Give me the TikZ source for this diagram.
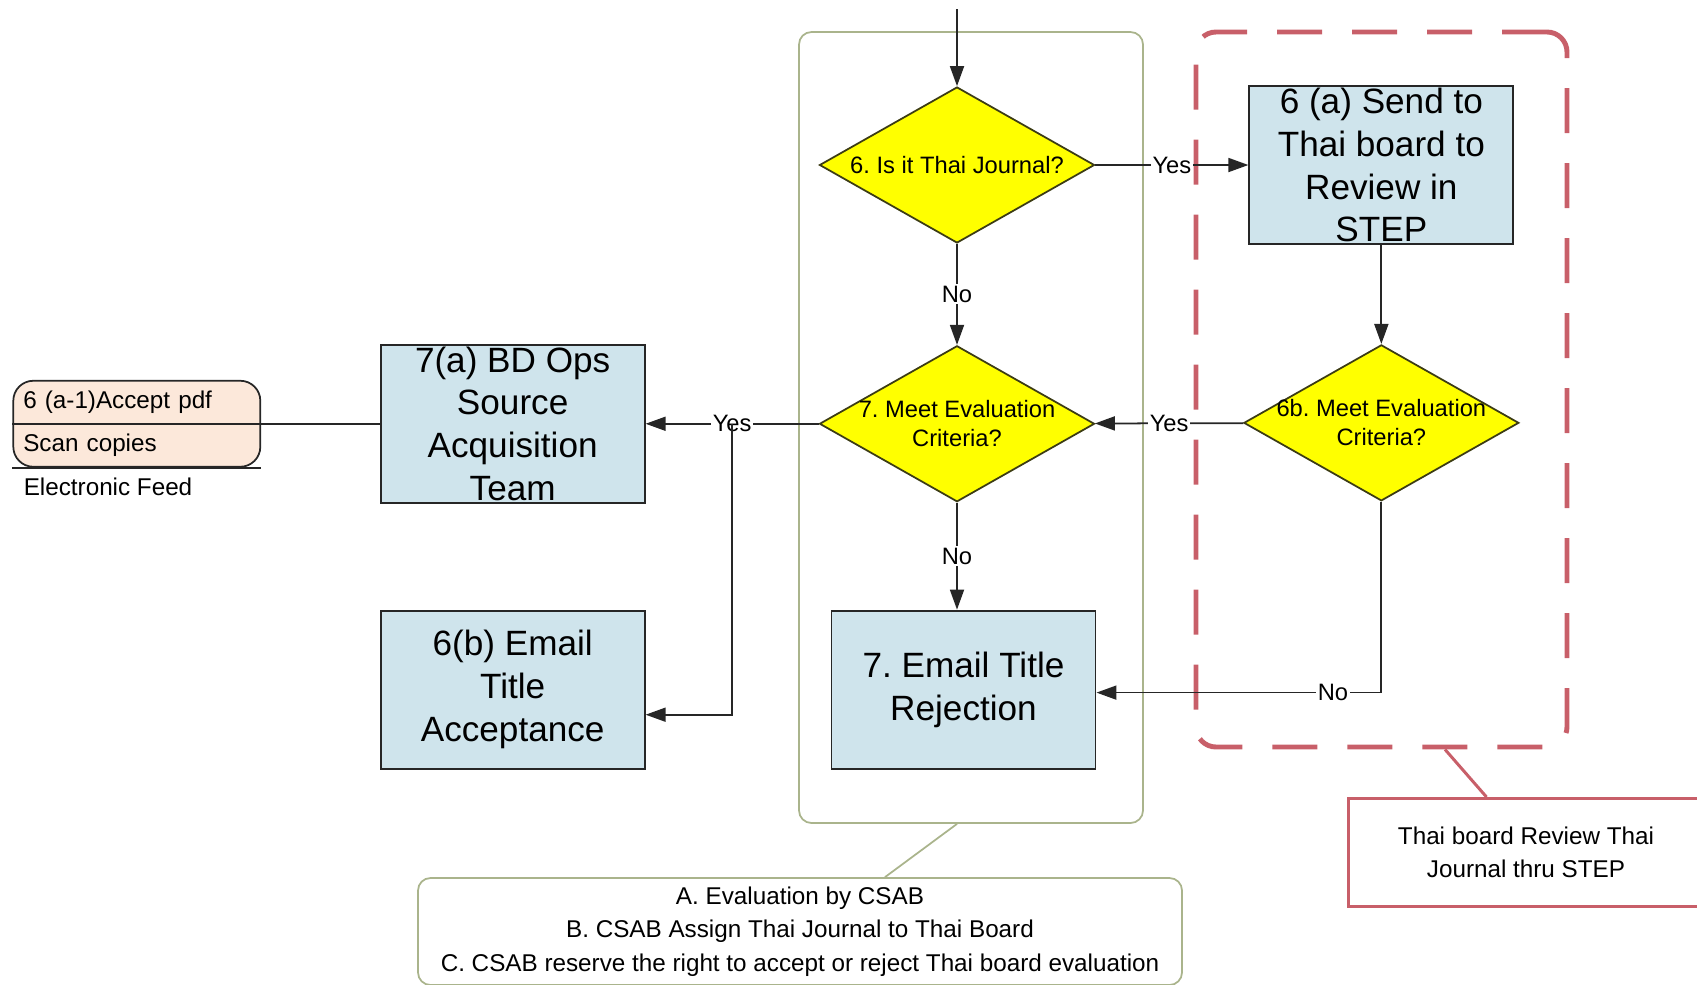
\documentclass[tikz,border=0pt]{standalone}
\usepackage{fontspec}
\setmainfont{Liberation Sans}
\usetikzlibrary{shapes.geometric,arrows.meta,positioning,calc}
\frenchspacing

\definecolor{boxblue}{RGB}{207,228,236}
\definecolor{diayellow}{RGB}{255,255,0}
\definecolor{dborder}{RGB}{60,60,20}
\definecolor{lanegreen}{RGB}{170,180,140}
\definecolor{stepred}{RGB}{200,95,105}
\definecolor{storefill}{RGB}{252,232,218}

\tikzset{
  process/.style={rectangle, draw=black!85, fill=boxblue, line width=1.1pt,
    minimum width=5.28cm, minimum height=3.16cm, inner sep=0pt, align=center,
    font=\fontsize{20}{24.4}\selectfont},
  decision/.style={diamond, draw=dborder, fill=diayellow, line width=1pt,
    minimum width=5.5cm, minimum height=3.12cm, inner sep=0pt},
  dtext/.style={align=center, inner sep=0pt, font=\fontsize{13.5}{16.5}\selectfont},
  store/.style={rectangle, rounded corners=0.4cm, draw=black!85, fill=storefill,
    line width=1pt, minimum width=4.94cm, minimum height=1.72cm, text width=4.54cm,
    inner xsep=0.2cm, align=left, font=\fontsize{13.8}{24.4}\selectfont},
  smalltext/.style={inner sep=0pt, font=\fontsize{13.8}{19}\selectfont},
  lane/.style={rectangle, rounded corners=0.25cm, draw=lanegreen, line width=1pt},
  dashzone/.style={rectangle, rounded corners=0.4cm, draw=stepred, line width=2.8pt,
    dash pattern=on 0.9cm off 0.6cm},
  note/.style={rectangle, rounded corners=0.25cm, draw=lanegreen, line width=1pt,
    align=center, font=\fontsize{13.8}{19}\selectfont},
  callout/.style={rectangle, draw=stepred, line width=1.7pt, align=center,
    font=\fontsize{13.8}{19}\selectfont},
  flow/.style={-{Triangle[length=0.4cm,width=0.28cm]}, line width=1pt, draw=black!85},
  link/.style={line width=1pt, draw=black!85},
  yn/.style={fill=white, inner sep=1pt, font=\fontsize{13.5}{16}\selectfont}
}

\begin{document}
\begin{tikzpicture}
\useasboundingbox (0,0) rectangle (33.94,-19.68);

\node[lane, minimum width=6.88cm, minimum height=15.82cm] (csabzone) at (19.42,-8.55) {};
\node[dashzone, minimum width=7.42cm, minimum height=14.30cm] (thaiarea) at (27.63,-7.79) {};

\coordinate (entry) at (19.14,-0.18);
\node[decision, label={[dtext]center:6. Is it Thai Journal?}] (d6) at (19.14,-3.30) {};
\node[decision, below=2.02cm of d6, label={[dtext]center:{7. Meet Evaluation\\Criteria?}}] (d7) {};
\node[process, right=3.06cm of d6] (thai) {6 (a) Send to\\Thai board to\\Review in\\STEP};
\node[decision, below=1.98cm of thai, label={[dtext]center:{6b. Meet Evaluation\\Criteria?}}] (d6b) {};
\node[process, left=3.46cm of d7] (bdops) {7(a) BD Ops\\Source\\Acquisition\\Team};
\node[process, below=2.12cm of bdops] (accept) {6(b) Email\\Title\\Acceptance};
\node[process, below=2.14cm of d7, xshift=0.13cm] (reject) {7. Email Title\\Rejection};
\node[store, left=2.37cm of bdops] (feed) {6 (a-1)Accept pdf\\Scan copies};
\node[smalltext, anchor=north west] (efeed) at ([xshift=0.22cm,yshift=-0.2cm]feed.south west) {Electronic Feed};

\draw[link] (feed.west) -- (feed.east);
\draw[link] (feed.south west) -- (feed.south east);
\draw[link] (feed) -- (bdops);

\draw[flow] (entry) -- (d6);
\draw[flow] (d6) -- node[yn] {Yes} (thai);
\draw[flow] (d6) -- node[yn] {No} (d7);
\draw[flow] (thai) -- (d6b);
\draw[flow] (d6b) -- node[yn] {Yes} (d7);
\draw[flow] (d7) -- node[yn] {Yes} (bdops);
\draw[flow] (d7) -- node[yn] {No} (d7 |- reject.north);
\draw[flow] (d6b) |- node[yn, pos=0.585] {No} ([yshift=-0.06cm]reject.east);
\coordinate (split) at ($(bdops.east)!0.5!(d7.west)$);
\draw[flow] (split) |- ([yshift=-0.5cm]accept.east);

\node[note, minimum width=15.28cm, minimum height=2.14cm] (csab) at (16.0,-18.63)
  {A. Evaluation by CSAB\\B. CSAB Assign Thai Journal to Thai Board\\C. CSAB reserve the right to accept or reject Thai board evaluation};
\draw[lanegreen, line width=1pt] ([xshift=-0.28cm]csabzone.south) -- ([xshift=1.7cm]csab.north);

\node[callout, minimum width=7.1cm, minimum height=2.16cm, anchor=north west] (stepnote) at (26.94,-15.94)
  {Thai board Review Thai\\Journal thru STEP};
\draw[stepred, line width=1.7pt] ([xshift=1.27cm]thaiarea.south) -- ([xshift=-0.79cm]stepnote.north);
\end{tikzpicture}
\end{document}
